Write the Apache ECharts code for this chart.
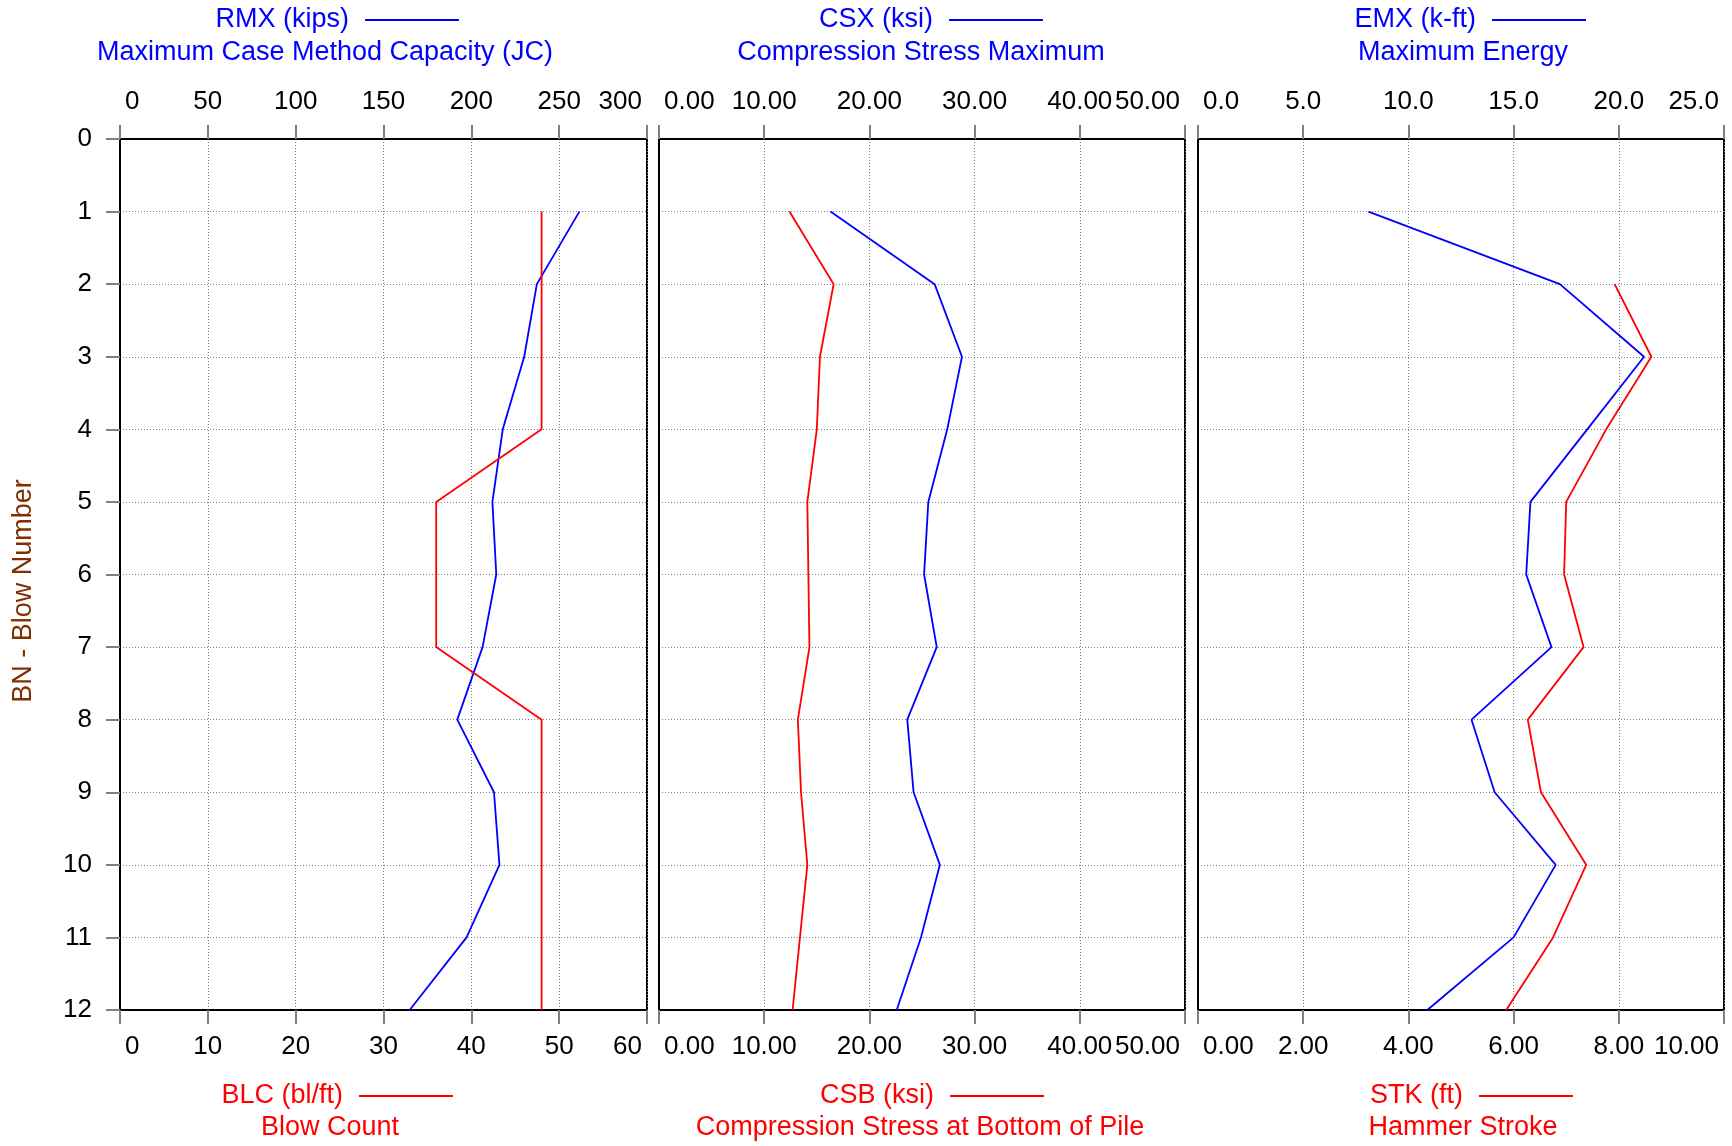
<!DOCTYPE html>
<html>
<head>
<meta charset="utf-8">
<script src="https://cdn.jsdelivr.net/npm/echarts@6/dist/echarts.min.js"></script>
<style>
  html, body { margin: 0; padding: 0; background: #fff; }
  #main { width: 1732px; height: 1146px; }
</style>
</head>
<body>
<div id="main"></div>
<script>
// blow numbers (y axis, top to bottom)
const blows = [1, 2, 3, 4, 5, 6, 7, 8, 9, 10, 11, 12];

// panel 1
const rmx = [261.5, 237.3, 230.1, 217.9, 212.0, 214.2, 206.4, 192.0, 212.9, 216.0, 197.3, 164.9]; // kips
const blc = [48, 48, 48, 48, 36, 36, 36, 48, 48, 48, 48, 48]; // bl/ft
// panel 2
const csx = [16.3, 26.2, 28.8, 27.4, 25.6, 25.2, 26.4, 23.6, 24.2, 26.7, 24.9, 22.6]; // ksi
const csb = [12.4, 16.6, 15.3, 15.0, 14.1, 14.2, 14.3, 13.2, 13.5, 14.1, 13.4, 12.7]; // ksi
// panel 3
const emx = [8.1, 17.2, 21.2, 18.5, 15.8, 15.6, 16.8, 13.0, 14.1, 17.0, 15.0, 10.9]; // k-ft
const stk = [null, 7.92, 8.62, 7.76, 7.00, 6.96, 7.33, 6.27, 6.52, 7.38, 6.75, 5.86]; // ft

// axis ranges: [min, max, interval, decimals]
const topAxes = [[0, 300, 50, 0], [0, 50, 10, 2], [0, 25, 5, 1]];
const bottomAxes = [[0, 60, 10, 0], [0, 50, 10, 2], [0, 10, 2, 2]];

const FONT = '"Liberation Sans", Arial, sans-serif';
const FS = 27;      // captions
const TICKFS = 26;  // tick labels
const BLUE = '#0000ff';
const RED = '#ff0000';
const GRIDGRAY = '#808080';

const panels = [
  { left: 120, width: 527 },
  { left: 659, width: 526 },
  { left: 1198, width: 526 }
];
const TOP = 139, HEIGHT = 871;

function pairs(vals) {
  const out = [];
  vals.forEach((v, i) => { if (v != null) out.push([v, blows[i]]); });
  return out;
}

function xAxis(gi, pos, rng, split) {
  return {
    type: 'value', gridIndex: gi, position: pos,
    min: rng[0], max: rng[1], interval: rng[2],
    axisLine: { show: true, onZero: false, lineStyle: { color: '#000', width: 2 } },
    axisTick: { show: true, length: 14, lineStyle: { color: GRIDGRAY, width: 2 } },
    axisLabel: {
      show: true, margin: 24, color: '#000', fontSize: TICKFS, fontFamily: FONT,
      alignMinLabel: 'left', alignMaxLabel: 'right',
      showMinLabel: true, showMaxLabel: true, hideOverlap: false,
      formatter: v => {
        const s = v.toFixed(rng[3]);
        if (v === rng[0]) return '{lo|' + s + '}';
        if (v === rng[1]) return '{hi|' + s + '}';
        return s;
      },
      rich: {
        lo: { padding: [0, 0, 0, 5], fontSize: TICKFS, fontFamily: FONT, color: '#000' },
        hi: { padding: [0, 5, 0, 0], fontSize: TICKFS, fontFamily: FONT, color: '#000' }
      }
    },
    splitLine: { show: split, lineStyle: { color: GRIDGRAY, width: 1, type: [1, 2] } }
  };
}

const grid = panels.map(p => ({
  left: p.left, width: p.width, top: TOP, height: HEIGHT,
  show: true, borderColor: '#000', borderWidth: 2, backgroundColor: 'transparent',
  containLabel: false
}));

const xAxes = [];
panels.forEach((p, i) => {
  xAxes.push(xAxis(i, 'top', topAxes[i], true));
  xAxes.push(xAxis(i, 'bottom', bottomAxes[i], false));
});

const yAxes = panels.map((p, i) => ({
  type: 'value', gridIndex: i, inverse: true,
  min: 0, max: 12, interval: 1,
  axisLine: { show: true, onZero: false, lineStyle: { color: '#000', width: 2 } },
  axisTick: { show: i === 0, length: 14, lineStyle: { color: GRIDGRAY, width: 2 } },
  axisLabel: { show: i === 0, margin: 28, color: '#000', fontSize: TICKFS, fontFamily: FONT },
  splitLine: { show: true, lineStyle: { color: GRIDGRAY, width: 1, type: [1, 2] } }
}));

function line(name, vals, xi, yi, color) {
  return {
    name: name, type: 'line', xAxisIndex: xi, yAxisIndex: yi,
    data: pairs(vals), showSymbol: false, symbol: 'none',
    lineStyle: { color: color, width: 1.8 }, itemStyle: { color: color }
  };
}

const series = [
  line('RMX', rmx, 0, 0, BLUE),
  line('BLC', blc, 1, 0, RED),
  line('CSX', csx, 2, 1, BLUE),
  line('CSB', csb, 3, 1, RED),
  line('EMX', emx, 4, 2, BLUE),
  line('STK', stk, 5, 2, RED)
];

// captions: [label, description, label right edge, description centre, y1, y2, colour]
const captions = [
  ['RMX (kips)', 'Maximum Case Method Capacity (JC)', 349, 325, 20, 53, BLUE],
  ['CSX (ksi)', 'Compression Stress Maximum', 933, 921, 20, 53, BLUE],
  ['EMX (k-ft)', 'Maximum Energy', 1476, 1463, 20, 53, BLUE],
  ['BLC (bl/ft)', 'Blow Count', 343, 330, 1096, 1128, RED],
  ['CSB (ksi)', 'Compression Stress at Bottom of Pile', 934, 920, 1096, 1128, RED],
  ['STK (ft)', 'Hammer Stroke', 1463, 1463, 1096, 1128, RED]
];

const graphic = [];
captions.forEach(c => {
  graphic.push({
    type: 'text', x: c[2], y: c[4],
    style: { text: c[0], fill: c[6], font: FS + 'px ' + FONT, textAlign: 'right', textVerticalAlign: 'middle' }
  });
  graphic.push({
    type: 'line', shape: { x1: c[2] + 16, y1: c[4], x2: c[2] + 110, y2: c[4] },
    style: { stroke: c[6], lineWidth: 2 }
  });
  graphic.push({
    type: 'text', x: c[3], y: c[5],
    style: { text: c[1], fill: c[6], font: FS + 'px ' + FONT, textAlign: 'center', textVerticalAlign: 'middle' }
  });
});
graphic.push({
  type: 'text', x: 24, y: 591, rotation: Math.PI / 2,
  style: { text: 'BN - Blow Number', fill: '#803000', font: FS + 'px ' + FONT, textAlign: 'center', textVerticalAlign: 'middle' }
});

const chart = echarts.init(document.getElementById('main'));
chart.setOption({
  animation: false,
  backgroundColor: '#fff',
  grid: grid,
  xAxis: xAxes,
  yAxis: yAxes,
  series: series,
  graphic: graphic
});
</script>
</body>
</html>
